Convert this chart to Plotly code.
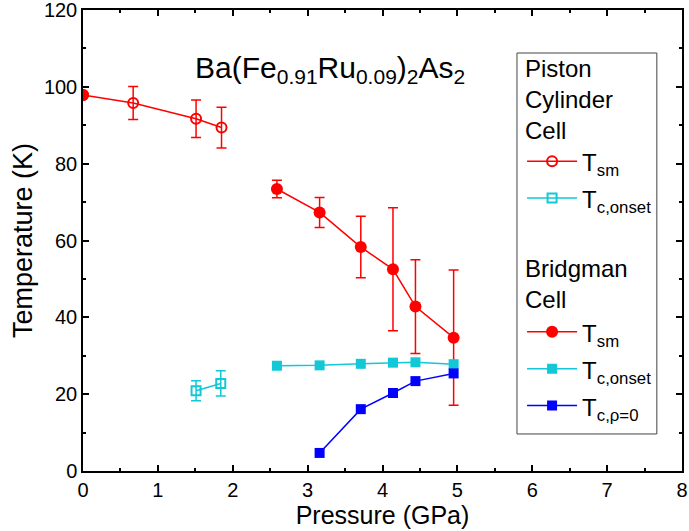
import plotly.graph_objects as go

# ---- data ----
pc_tsm_p = [0.0, 0.67, 1.51, 1.85]
pc_tsm_t = [97.9, 95.8, 91.7, 89.4]
pc_tsm_err = [0.0, 4.3, 4.9, 5.3]

pc_tc_p = [1.51, 1.84]
pc_tc_t = [20.9, 22.8]
pc_tc_err = [2.6, 3.3]

bc_tsm_p = [2.59, 3.16, 3.71, 4.14, 4.44, 4.95]
bc_tsm_t = [73.4, 67.3, 58.3, 52.5, 42.8, 34.7]
bc_tsm_err = [2.3, 3.9, 8.0, 16.0, 12.2, 17.6]

bc_tc_p = [2.59, 3.16, 3.71, 4.14, 4.44, 4.95]
bc_tc_t = [27.4, 27.5, 27.9, 28.2, 28.3, 27.8]

bc_tc0_p = [3.16, 3.71, 4.14, 4.44, 4.95]
bc_tc0_t = [4.7, 16.1, 20.3, 23.4, 25.4]

group_titles = ["Piston<br>Cylinder<br>Cell", "Bridgman<br>Cell"]

RED = "#FF0000"
CYAN = "#12C8D6"
BLUE = "#0000FF"
FONT = "Liberation Sans, Arial, sans-serif"


def lg(txt):
    return "<span style='font-size:24px'>" + txt + "</span>"


fig = go.Figure()

fig.add_trace(go.Scatter(
    x=pc_tsm_p, y=pc_tsm_t, mode="lines+markers", name=lg("T<sub>sm</sub>"),
    legendgroup="pc",
    line=dict(color=RED, width=1.5),
    marker=dict(symbol="circle-open", size=10, color=RED, line=dict(width=2, color=RED)),
    error_y=dict(type="data", array=pc_tsm_err, color=RED, thickness=1.5, width=5),
))
fig.add_trace(go.Scatter(
    x=pc_tsm_p[:1], y=pc_tsm_t[:1], mode="markers", showlegend=False,
    marker=dict(symbol="circle", size=12, color=RED),
))
fig.add_trace(go.Scatter(
    x=pc_tc_p, y=pc_tc_t, mode="lines+markers", name=lg("T<sub>c,onset</sub>"),
    legendgroup="pc",
    line=dict(color=CYAN, width=1.5),
    marker=dict(symbol="square-open", size=9, color=CYAN, line=dict(width=2, color=CYAN)),
    error_y=dict(type="data", array=pc_tc_err, color=CYAN, thickness=1.5, width=5),
))
fig.add_trace(go.Scatter(
    x=bc_tsm_p, y=bc_tsm_t, mode="lines+markers", name=lg("T<sub>sm</sub>"),
    legendgroup="bc",
    line=dict(color=RED, width=1.5),
    marker=dict(symbol="circle", size=12, color=RED),
    error_y=dict(type="data", array=bc_tsm_err, color=RED, thickness=1.5, width=5),
))
fig.add_trace(go.Scatter(
    x=bc_tc_p, y=bc_tc_t, mode="lines+markers", name=lg("T<sub>c,onset</sub>"),
    legendgroup="bc",
    line=dict(color=CYAN, width=1.5),
    marker=dict(symbol="square", size=10, color=CYAN),
))
fig.add_trace(go.Scatter(
    x=bc_tc0_p, y=bc_tc0_t, mode="lines+markers", name=lg("T<sub>c,ρ=0</sub>"),
    legendgroup="bc",
    line=dict(color=BLUE, width=1.5),
    marker=dict(symbol="square", size=10, color=BLUE),
))

axis_common = dict(
    showline=True, linecolor="black", linewidth=1.5, mirror="allticks",
    ticks="inside", ticklen=6, tickwidth=1.5, tickcolor="black",
    showgrid=False, zeroline=False, automargin=False,
    ticklabeloverflow="allow",
    tickfont=dict(family=FONT, size=20, color="black"),
)

fig.update_layout(
    width=689, height=531,
    margin=dict(l=83, r=7, t=10, b=60),
    paper_bgcolor="white", plot_bgcolor="white",
    font=dict(family=FONT, color="black"),
    xaxis=dict(range=[0, 8], dtick=1, tick0=0,
               minor=dict(ticks="inside", ticklen=3, tickwidth=1.5, dtick=0.5, tickcolor="black"),
               title=dict(text="Pressure (GPa)", font=dict(family=FONT, size=25), standoff=0),
               **axis_common),
    yaxis=dict(range=[0, 120], dtick=20, tick0=0,
               minor=dict(ticks="inside", ticklen=3, tickwidth=1.5, dtick=10, tickcolor="black"),
               title=dict(text="Temperature (K)", font=dict(family=FONT, size=27), standoff=3),
               **axis_common),
    showlegend=True,
    legend=dict(
        x=0.733, y=0.7227, xanchor="left", yanchor="top",
        bgcolor="rgba(0,0,0,0)", borderwidth=0,
        font=dict(family=FONT, size=26, color="black"),
        traceorder="grouped", tracegroupgap=97, itemwidth=50,
    ),
    shapes=[dict(
        type="rect", xref="paper", yref="paper",
        x0=0.7245, x1=0.958, y0=0.0803, y1=0.9067,
        line=dict(color="#444", width=1), fillcolor="white", layer="below",
    )],
    annotations=[
        dict(
            text="Ba(Fe<sub>0.91</sub>Ru<sub>0.09</sub>)<sub>2</sub>As<sub>2</sub>",
            x=0.413, y=0.872, xref="paper", yref="paper", showarrow=False,
            xanchor="center", yanchor="middle",
            font=dict(family=FONT, size=30, color="black"),
        ),
        dict(
            text=group_titles[0], x=0.734, y=(471 - 100) / 461,
            xref="paper", yref="paper", showarrow=False, align="left",
            xanchor="left", yanchor="middle",
            font=dict(family=FONT, size=24, color="black"),
        ),
        dict(
            text=group_titles[1], x=0.734, y=(471 - 284) / 461,
            xref="paper", yref="paper", showarrow=False, align="left",
            xanchor="left", yanchor="middle",
            font=dict(family=FONT, size=24, color="black"),
        ),
    ],
)

fig.write_html("out.html", config={"displayModeBar": False},
               post_script="document.body.style.margin='0px';")
